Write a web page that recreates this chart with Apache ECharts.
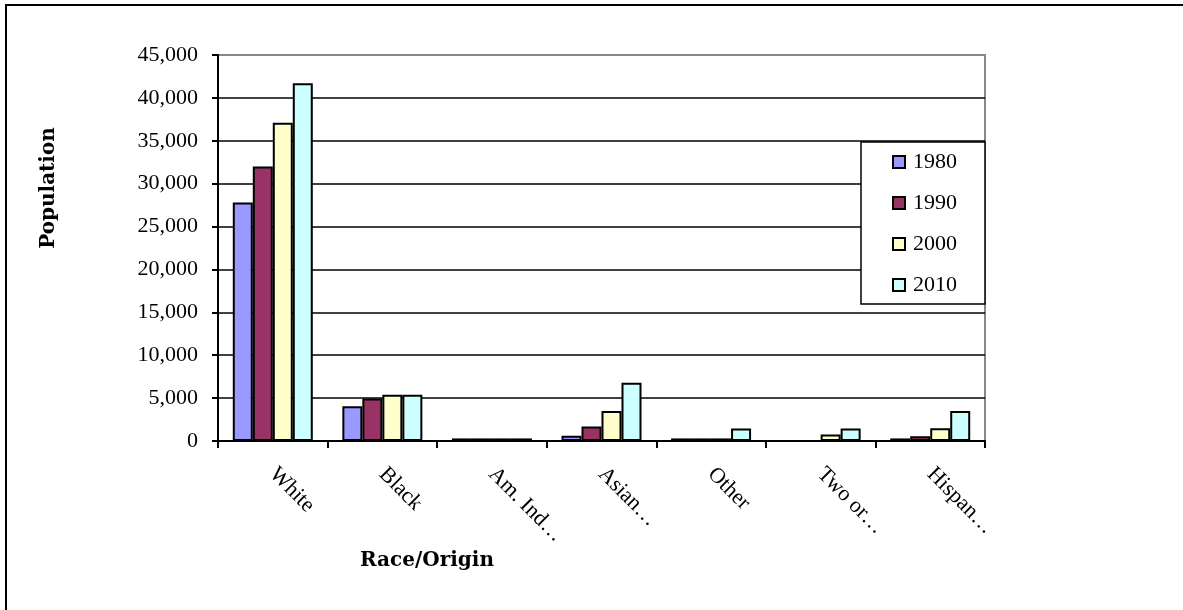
<!DOCTYPE html>
<html>
<head>
<meta charset="utf-8">
<script src="https://cdn.jsdelivr.net/npm/echarts@6/dist/echarts.min.js"></script>
<style>
  html, body { margin: 0; padding: 0; background: #fff; }
  #chart { width: 1183px; height: 610px; }
</style>
</head>
<body>
<div id="chart"></div>
<script>
// Population by race/origin, census years 1980-2010
const categories = ['White', 'Black', 'Am. Ind\u2026', 'Asian\u2026', 'Other', 'Two or\u2026', 'Hispan\u2026'];
const years = ['1980', '1990', '2000', '2010'];
const pop1980 = [27800, 4050, 300, 600, 300, 0, 300];
const pop1990 = [32000, 4950, 300, 1700, 300, 0, 550];
const pop2000 = [37100, 5400, 300, 3500, 300, 750, 1500];
const pop2010 = [41700, 5400, 300, 6800, 1450, 1450, 3500];
const yTickLabels = ['0', '5,000', '10,000', '15,000', '20,000', '25,000', '30,000', '35,000', '40,000', '45,000'];

const seriesValues = [pop1980, pop1990, pop2000, pop2010];
const barColors = ['#9999FF', '#993366', '#FFFFCC', '#CCFFFF'];
const serif = "'Liberation Serif', 'Times New Roman', Times, serif";
const boldSerif = "'DejaVu Serif', serif";

const chart = echarts.init(document.getElementById('chart'), null, { renderer: 'canvas' });

chart.setOption({
  animation: false,
  backgroundColor: '#ffffff',
  textStyle: { fontFamily: serif, color: '#000' },
  grid: {
    left: 218, right: 198, top: 55, bottom: 169,
    show: true, borderColor: '#888888', borderWidth: 2
  },
  legend: {
    orient: 'vertical',
    left: 861, top: 142, z: 20,
    padding: [9, 28, 10, 31],
    itemGap: 19,
    itemWidth: 12, itemHeight: 12,
    icon: 'rect',
    textStyle: { fontFamily: serif, fontSize: 22, color: '#000', lineHeight: 22, padding: [0, 0, 0, 3] },
    data: years
  },
  xAxis: {
    type: 'category',
    data: categories,
    axisLine: { lineStyle: { color: '#000', width: 2 } },
    axisTick: { show: true, length: 7, lineStyle: { color: '#000', width: 2 } },
    axisLabel: {
      interval: 0, rotate: -45, margin: 30,
      fontFamily: serif, fontSize: 22, color: '#000'
    },
    splitLine: { show: false }
  },
  yAxis: {
    type: 'value',
    min: 0, max: 45000, interval: 5000,
    axisLine: { show: true, lineStyle: { color: '#000', width: 2 } },
    axisTick: { show: true, length: 6, lineStyle: { color: '#000', width: 2 } },
    axisLabel: {
      margin: 20, fontFamily: serif, fontSize: 22, color: '#000',
      formatter: (v) => yTickLabels[Math.round(v / 5000)]
    },
    splitLine: { show: true, showMaxLine: false, lineStyle: { color: '#000', width: 1.5 } }
  },
  series: years.map((y, i) => ({
    name: y,
    type: 'bar',
    data: seriesValues[i],
    barWidth: 20,
    barGap: '0%',
    itemStyle: { color: barColors[i], borderColor: '#000', borderWidth: 2 }
  })),
  graphic: [
    {
      // outer frame of the figure
      type: 'rect', silent: true, z: 100,
      shape: { x: 6, y: 5, width: 1300, height: 800 },
      style: { fill: null, stroke: '#000', lineWidth: 2 }
    },
    {
      // opaque legend box, drawn over the gridlines and under the legend items
      type: 'rect', silent: true, z: 10,
      shape: { x: 861, y: 142, width: 124, height: 162 },
      style: { fill: '#ffffff', stroke: '#000', lineWidth: 1.5 }
    },
    {
      type: 'text', z: 100,
      x: 49, y: 188, rotation: Math.PI / 2,
      style: {
        text: 'Population', fontFamily: boldSerif, fontWeight: 'bold', fontSize: 20,
        fill: '#000', align: 'center', verticalAlign: 'middle'
      }
    },
    {
      type: 'text', z: 100,
      x: 427, y: 561,
      style: {
        text: 'Race/Origin', fontFamily: boldSerif, fontWeight: 'bold', fontSize: 20,
        fill: '#000', align: 'center', verticalAlign: 'middle'
      }
    }
  ]
});
</script>
</body>
</html>
